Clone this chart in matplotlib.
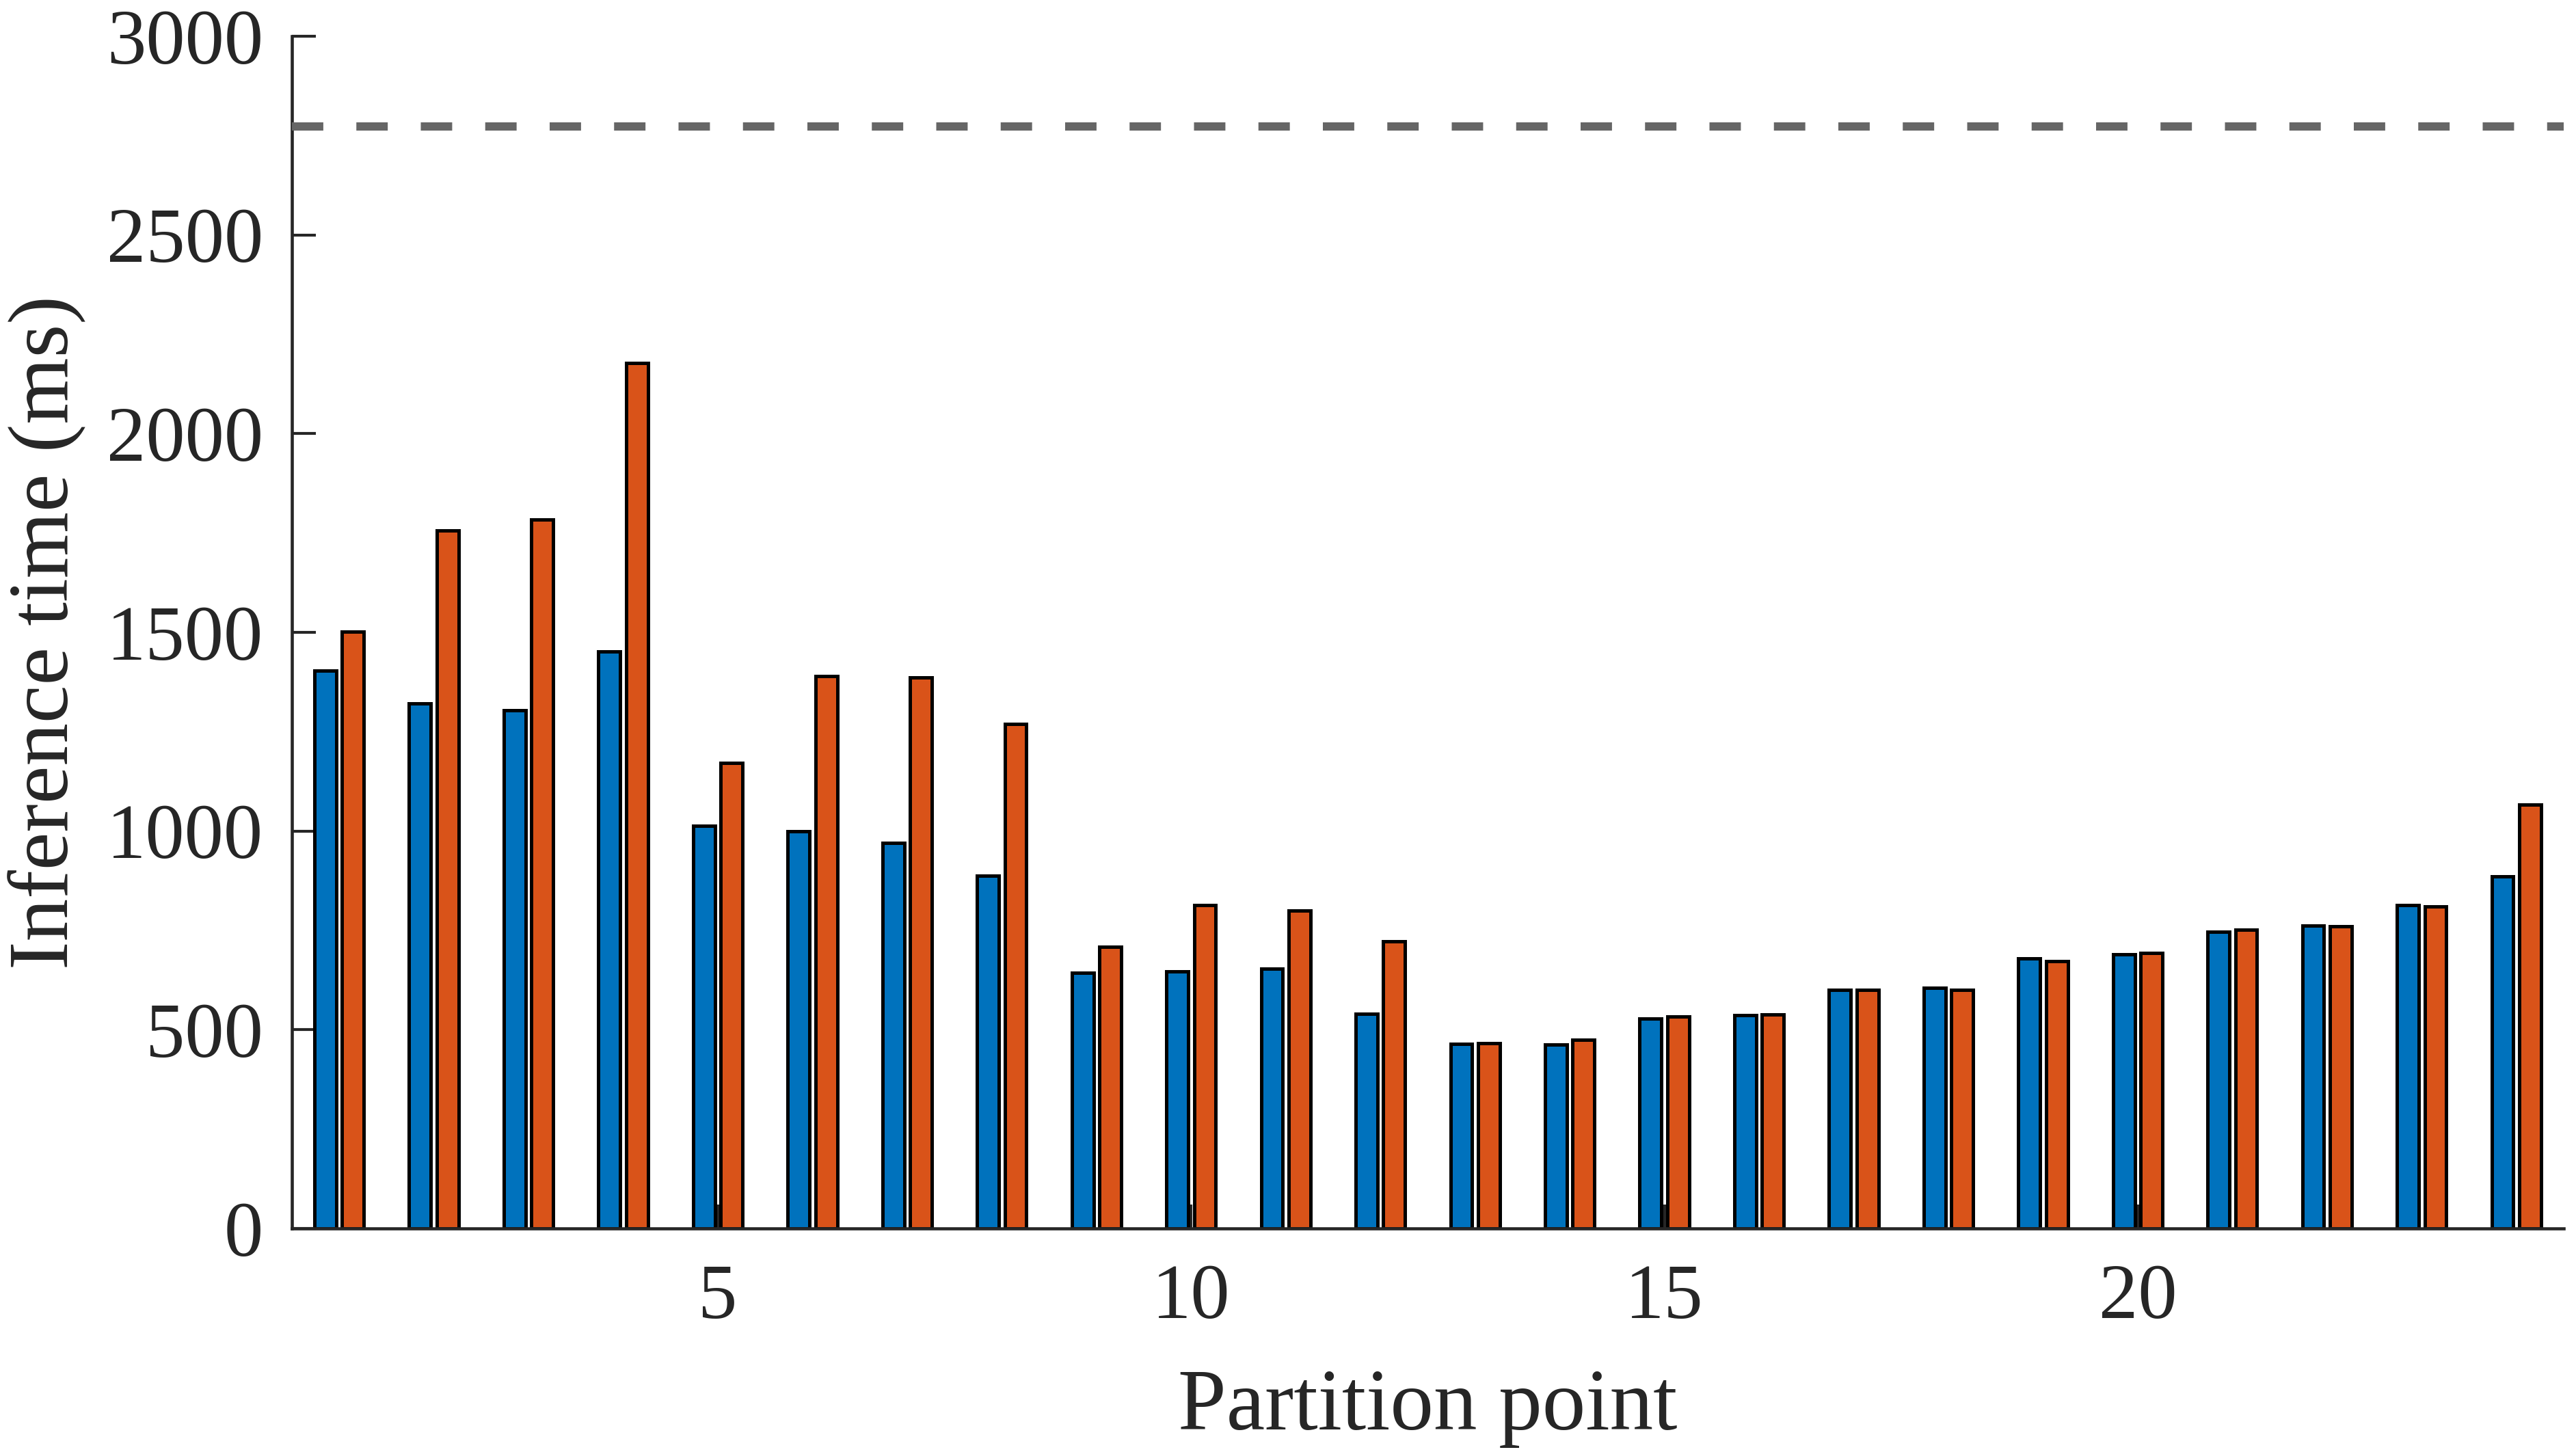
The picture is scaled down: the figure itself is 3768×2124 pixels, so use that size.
import matplotlib
matplotlib.use("Agg")
import matplotlib.pyplot as plt
import numpy as np

# partition points and measured inference times (ms)
partition_points = np.arange(1, 25)
time_blue = [1404, 1321, 1304, 1452, 1013, 1000, 970, 887, 643, 646, 654, 540,
             464, 462, 528, 537, 600, 606, 680, 689, 746, 762, 814, 885]
time_orange = [1502, 1756, 1784, 2177, 1172, 1390, 1387, 1270, 709, 814, 800, 723,
               466, 474, 533, 538, 600, 601, 672, 694, 751, 761, 810, 1066]
baseline_time = 2773

plt.rcParams['font.family'] = ['Liberation Serif', 'DejaVu Serif']

fig = plt.figure(figsize=(12.56, 7.08), dpi=300)
ax = fig.add_axes([0.1133, 0.154, 0.9952 - 0.1133, 0.975 - 0.154])

w = 0.23
off = 0.146
ax.bar(partition_points - off, time_blue, width=w, color='#0072BD',
       edgecolor='black', linewidth=1.2, zorder=2)
ax.bar(partition_points + off, time_orange, width=w, color='#D95319',
       edgecolor='black', linewidth=1.2, zorder=2)
ax.axhline(baseline_time, color='#666666', linewidth=2.9,
           linestyle=(0, (3.8, 4.0)), zorder=3)

ax.set_xlim(0.5, 24.5)
ax.set_ylim(0, 3000)
ax.set_xticks([5, 10, 15, 20])
ax.set_yticks(np.arange(0, 3001, 500))

for s in ['top', 'right']:
    ax.spines[s].set_visible(False)
for s in ['left', 'bottom']:
    ax.spines[s].set_color('#262626')
    ax.spines[s].set_linewidth(1.1)

ax.tick_params(axis='both', direction='in', length=8.4, width=1.0,
               color='#262626', labelcolor='#262626', labelsize=27.5)
ax.tick_params(axis='x', pad=12.5)
ax.tick_params(axis='y', pad=10)

ax.set_xlabel('Partition point', fontsize=30.5, color='#262626', labelpad=12)
ax.set_ylabel('Inference time (ms)', fontsize=30, color='#262626', labelpad=7)

fig.savefig('out.png', dpi=300)
